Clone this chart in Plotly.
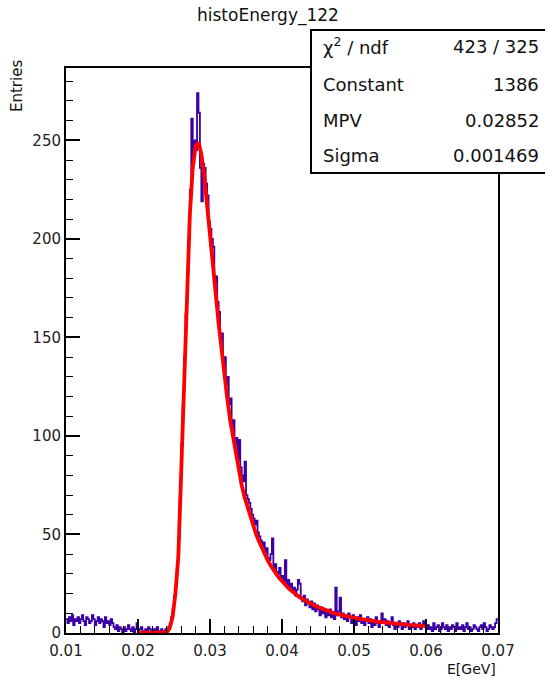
import numpy as np
import plotly.graph_objects as go

# ---------------- data ----------------
title_text = "histoEnergy_122"
x_title = "E[GeV]"
y_title = "Entries"

x_min, x_max, n_bins = 0.01, 0.07, 300

counts = [
    # 0.010 - 0.0166
    7, 5, 8, 6, 9, 4, 7, 6, 8, 5, 7, 9, 6, 4, 8, 7, 5, 6, 9, 7, 4, 6, 8, 5, 7, 6, 3, 8, 5, 6, 4, 7, 5,
    # 0.0166 - 0.0240
    3, 2, 4, 1, 3, 2, 0, 3, 1, 2, 4, 2, 1, 3, 0, 2, 5, 1, 2, 3, 1, 0, 2, 1, 3, 2, 1, 0, 2, 1, 3, 0, 1, 2, 1, 0, 2,
    # rising edge
    1, 3, 5, 8, 12, 19, 24, 36, 48, 70, 96, 115, 140, 162, 183, 200,
    # peak
    225, 261, 238, 250, 245, 274, 264, 236, 219, 238, 236, 228, 222, 209, 205,
    # tail
    200, 196, 178, 181, 168, 163, 149, 152, 138, 140,
    126, 130, 116, 119, 104, 108, 96, 99, 88, 98,
    84, 80, 77, 87, 70, 68, 66, 63, 60, 58,
    55, 57, 51, 49, 47, 44, 46, 41, 43, 38,
    37, 40, 48, 33, 35, 31, 30, 33, 27, 29,
    26, 37, 24, 27, 22, 25, 21, 23, 19, 22,
    27, 25, 18, 16, 19, 14, 17, 15, 13, 16,
    12, 15, 11, 14, 12, 9, 13, 10, 12, 8,
    11, 9, 12, 8, 10, 7, 23, 9, 11, 18,
    8, 10, 7, 9, 6, 10, 8, 5, 9,
    7, 4, 8, 6, 9, 5, 7, 4, 6, 8,
    5, 7, 3, 6, 4, 8, 5, 3, 6, 10,
    5, 7, 4, 6, 3, 5, 8, 4, 2, 5,
    3, 6, 4, 2, 5, 3, 4, 6, 2, 4,
    3, 5, 2, 4, 3, 5, 2, 4, 6, 3,
    2,
    4, 2, 3, 1, 5, 2, 3, 4, 1, 2, 5, 3, 2, 4, 1, 3, 2, 4, 3, 1,
    5, 2, 3, 2, 4, 1, 3, 5, 2, 3, 1, 2, 4, 3, 2, 1, 3, 4, 2, 5,
    3, 1, 2, 4, 3, 2, 3, 5, 7,
]

fit_x_min, fit_x_max, n_fit = 0.02, 0.06, 101
fit_vals = [
    0, 0, 0, 0, 0, 0, 0, 0, 0, 0,
    0.4, 2.5, 8.0, 20.2, 38.8, 81.8, 130, 175, 212, 236, 247,
    249, 243, 232, 218, 203, 187, 172, 157, 143, 131,
    119, 108, 99, 90, 82, 75, 69, 64, 58.5, 54,
    50, 46.5, 43, 39.8, 37, 34.4, 31.9, 30, 28, 26.2,
    24.5, 23.1, 21.8, 20.5, 19.4, 18.3, 17.3, 16.4, 15.6, 14.8,
    14.1, 13.4, 12.8, 12.2, 11.6, 11.1, 10.6, 10.1, 9.7, 9.3,
    9.0, 8.6, 8.3, 8.0, 7.7, 7.4, 7.1, 6.9, 6.6, 6.4,
    6.2, 6.0, 5.8, 5.6, 5.4, 5.2, 5.1, 4.9, 4.8, 4.6,
    4.5, 4.4, 4.3, 4.1, 4.0, 3.9, 3.8, 3.7, 3.6, 3.5,
]

stats_labels = ["χ<sup>2</sup> / ndf", "Constant", "MPV", "Sigma"]
stats_values = ["423 / 325", "1386", "0.02852", "0.001469"]

x_ticks = [0.01, 0.02, 0.03, 0.04, 0.05, 0.06, 0.07]
x_tick_text = ["0.01", "0.02", "0.03", "0.04", "0.05", "0.06", "0.07"]
y_ticks = [0, 50, 100, 150, 200, 250]
y_max = 286.7

# ---------------- figure ----------------
FONT = "DejaVu Sans"
W, H = 545, 686
ML, MR, MT, MB = 66, 47, 68, 53
PW, PH = W - ML - MR, H - MT - MB


def px_x(p):
    return (p - ML) / PW


def px_y(p):
    return (H - MB - p) / PH


edges = np.linspace(x_min, x_max, n_bins + 1)
hx = list(edges)
hy = list(counts) + [counts[-1]]

fit_x = np.linspace(fit_x_min, fit_x_max, n_fit)

fig = go.Figure()
fig.add_trace(go.Scatter(
    x=hx, y=hy, mode="lines", line=dict(color="#3a00a6", width=1.8, shape="hv"),
    hoverinfo="skip",
))
fig.add_trace(go.Scatter(
    x=fit_x, y=fit_vals, mode="lines", line=dict(color="#ff0000", width=3.8),
    hoverinfo="skip",
))

axis_common = dict(
    showgrid=False, zeroline=False, showline=True, linecolor="black", linewidth=2,
    mirror=True, ticks="inside", ticklen=14, tickwidth=1.5, tickcolor="black",
    tickfont=dict(family=FONT, size=15, color="#222"),
)

fig.update_xaxes(
    range=[x_min, x_max], tickvals=x_ticks, ticktext=x_tick_text,
    ticklabelstandoff=3,
    minor=dict(tick0=x_min, dtick=0.002, ticks="inside", ticklen=7, tickwidth=1.2,
               tickcolor="black", showgrid=False),
    **axis_common,
)
fig.update_yaxes(
    range=[0, y_max], tickvals=y_ticks,
    minor=dict(tick0=0, dtick=10, ticks="inside", ticklen=7, tickwidth=1.2,
               tickcolor="black", showgrid=False),
    **axis_common,
)

annotations = [
    dict(text=title_text, x=px_x(268), y=px_y(16), xref="paper", yref="paper",
         xanchor="center", yanchor="middle", showarrow=False,
         font=dict(family=FONT, size=17, color="#111")),
    dict(text=x_title, x=1.0, y=px_y(669), xref="paper", yref="paper",
         xanchor="right", yanchor="middle", showarrow=False,
         font=dict(family=FONT, size=14, color="#111")),
    dict(text=y_title, x=px_x(17), y=px_y(58), xref="paper", yref="paper",
         xanchor="center", yanchor="top", textangle=-90, showarrow=False,
         font=dict(family=FONT, size=15, color="#111")),
]

row_y = [46, 84, 120, 155]
for lab, val, ry in zip(stats_labels, stats_values, row_y):
    annotations.append(dict(text=lab, x=px_x(321), y=px_y(ry), xref="paper", yref="paper",
                            xanchor="left", yanchor="middle", showarrow=False,
                            font=dict(family=FONT, size=18, color="#111")))
    annotations.append(dict(text=val, x=px_x(541), y=px_y(ry), xref="paper", yref="paper",
                            xanchor="right", yanchor="middle", showarrow=False,
                            font=dict(family=FONT, size=18, color="#111")))

fig.update_layout(
    width=W, height=H,
    margin=dict(l=ML, r=MR, t=MT, b=MB),
    paper_bgcolor="white", plot_bgcolor="white",
    showlegend=False,
    annotations=annotations,
    shapes=[dict(type="rect", xref="paper", yref="paper",
                 x0=px_x(311), x1=px_x(552), y0=px_y(173), y1=px_y(30),
                 line=dict(color="black", width=2), fillcolor="white", layer="above")],
)

fig.write_html("out.html")
